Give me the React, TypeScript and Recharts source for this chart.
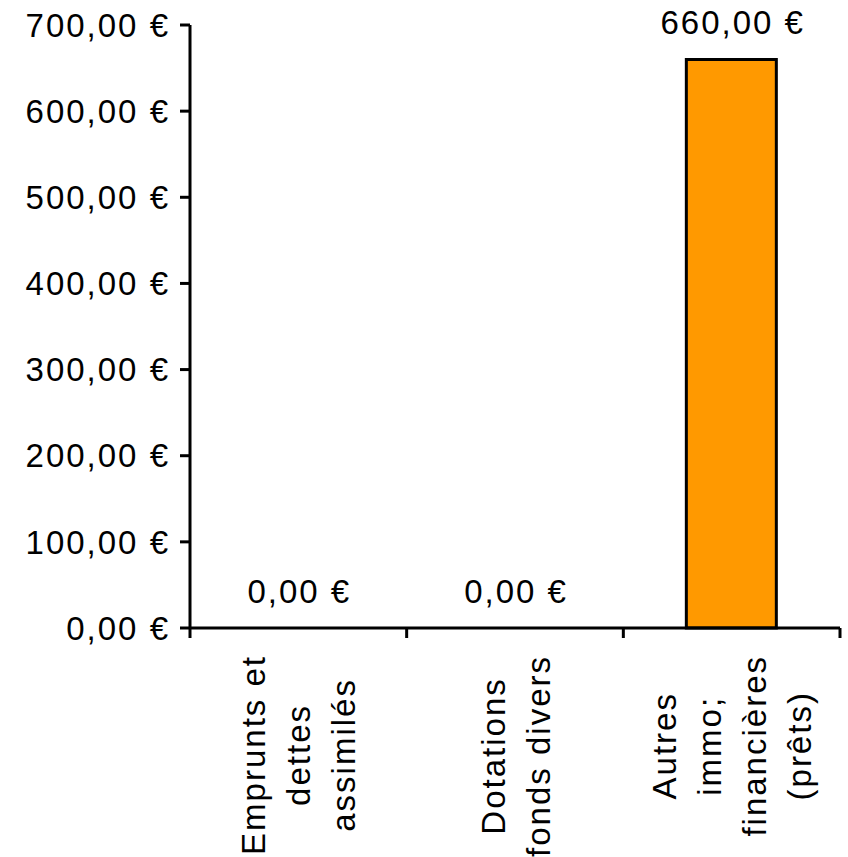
import { Bar, ComposedChart, Line, XAxis, YAxis, LabelList } from 'recharts';

document.body.style.margin = '0';

const categories = [
  'Emprunts et\ndettes\nassimilés',
  'Dotations\nfonds divers',
  'Autres\nimmo;\nfinancières\n(prêts)',
];
const amounts = [0, 0, 660];
const yTicks = [0, 100, 200, 300, 400, 500, 600, 700];

const data = categories.map((name, i) => ({ name, amount: amounts[i] }));

const FONT = '"Liberation Sans", Arial, sans-serif';
const FONT_SIZE = 33;
const SPACING = 2;
const TICK = 10;

const euro = (v: number) => `${v.toFixed(2).replace('.', ',')} €`;

let ctx: CanvasRenderingContext2D | null = null;
function textWidth(s: string) {
  if (!ctx) {
    ctx = document.createElement('canvas').getContext('2d');
  }
  if (!ctx) return s.length * FONT_SIZE * 0.5;
  ctx.font = `${FONT_SIZE}px "Liberation Sans"`;
  return ctx.measureText(s).width + s.length * SPACING;
}

// category label, rotated, plus tick marks on the category boundaries
function CategoryTick(props: any) {
  const { x, y, payload, index, visibleTicksCount } = props;
  const half = payload.offset || 0;
  const lines: string[] = String(payload.value).split('\n');
  const maxW = Math.max(...lines.map(textWidth));
  const centre = y + 17 + maxW / 2;
  const gap = 45;
  const marks = [x - half];
  if (index === visibleTicksCount - 1) marks.push(x + half);
  return (
    <g>
      {marks.map((mx, i) => (
        <line key={i} x1={mx} x2={mx} y1={y - TICK} y2={y} stroke="#000" strokeWidth={3} />
      ))}
      <g transform={`translate(${x},${centre}) rotate(-90)`}>
        {lines.map((line, i) => (
          <text
            key={i}
            x={0}
            y={(i - (lines.length - 1) / 2) * gap + 12}
            textAnchor="middle"
            fontFamily={FONT}
            fontSize={FONT_SIZE}
            letterSpacing={SPACING}
            fill="#000"
          >
            {line}
          </text>
        ))}
      </g>
    </g>
  );
}

function ValueLabel(props: any) {
  const { x, y, value } = props;
  return (
    <text
      x={x + SPACING / 2}
      y={y - 25}
      textAnchor="middle"
      fontFamily={FONT}
      fontSize={FONT_SIZE}
      letterSpacing={SPACING}
      fill="#000"
    >
      {euro(value)}
    </text>
  );
}

export default function App() {
  return (
    <ComposedChart
      width={848}
      height={857}
      data={data}
      margin={{ top: 25, right: 8, bottom: 0, left: 0 }}
    >
      <XAxis
        dataKey="name"
        interval={0}
        height={229}
        tick={<CategoryTick />}
        tickSize={TICK}
        tickMargin={0}
        tickLine={{ stroke: 'none' }}
        axisLine={{ stroke: '#000', strokeWidth: 3 }}
      />
      <YAxis
        domain={[0, 700]}
        ticks={yTicks}
        width={190}
        tickFormatter={euro}
        tickSize={TICK}
        tickMargin={10}
        tick={{ fill: '#000', fontSize: FONT_SIZE, fontFamily: FONT, letterSpacing: SPACING }}
        tickLine={{ stroke: '#000', strokeWidth: 3 }}
        axisLine={{ stroke: '#000', strokeWidth: 3 }}
      />
      <Bar
        dataKey="amount"
        fill="#FF9900"
        stroke="#000"
        strokeWidth={3}
        barSize={90}
        isAnimationActive={false}
      />
      <Line
        dataKey="amount"
        stroke="none"
        dot={false}
        activeDot={false}
        isAnimationActive={false}
      >
        <LabelList dataKey="amount" content={<ValueLabel />} />
      </Line>
    </ComposedChart>
  );
}
